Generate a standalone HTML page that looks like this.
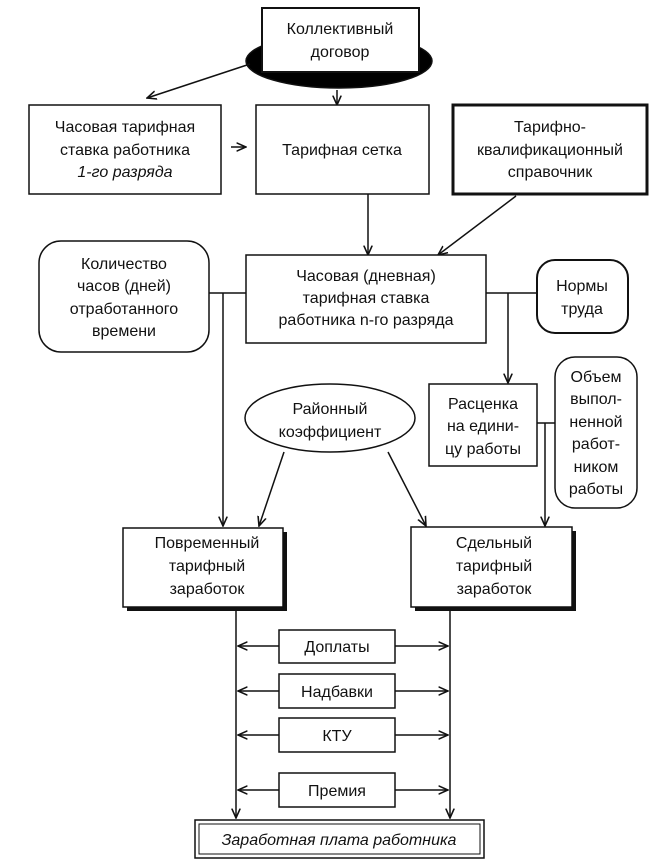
<!DOCTYPE html>
<html><head><meta charset="utf-8"><style>
html,body{margin:0;padding:0;background:#fff}
svg{display:block}
text{font-family:"Liberation Sans","DejaVu Sans",sans-serif;font-size:16px;fill:#111;text-anchor:middle}
</style></head><body>
<svg width="672" height="866" viewBox="0 0 672 866" xmlns="http://www.w3.org/2000/svg">
<defs>
<marker id="a" viewBox="0 0 10 10" refX="9" refY="5" markerWidth="7" markerHeight="7" orient="auto-start-reverse"><path d="M0,1 L9,5 L0,9" fill="none" stroke="#111" stroke-width="1.5"/></marker>
</defs>
<g stroke="#111" stroke-width="1.5" fill="none">
<!-- top ellipse + box -->
<ellipse cx="339" cy="61" rx="93" ry="27" fill="#000"/>
<rect x="262" y="8" width="157" height="64" fill="#fff" stroke-width="2"/>
<line x1="250" y1="64" x2="147" y2="98" marker-end="url(#a)"/>
<line x1="337" y1="90" x2="337" y2="105" marker-end="url(#a)"/>
<rect x="29" y="105" width="192" height="89" fill="#fff"/>
<line x1="231" y1="147" x2="246" y2="147" marker-end="url(#a)"/>
<rect x="256" y="105" width="173" height="89" fill="#fff"/>
<rect x="453" y="105" width="194" height="89" fill="#fff" stroke-width="3"/>
<line x1="368" y1="194" x2="368" y2="255" marker-end="url(#a)"/>
<line x1="516" y1="196" x2="438" y2="255" marker-end="url(#a)"/>
<rect x="246" y="255" width="240" height="88" fill="#fff"/>
<rect x="39" y="241" width="170" height="111" rx="22" fill="#fff"/>
<rect x="537" y="260" width="91" height="73" rx="18" fill="#fff" stroke-width="2"/>
<line x1="209" y1="293" x2="246" y2="293"/>
<line x1="486" y1="293" x2="537" y2="293"/>
<line x1="223" y1="293" x2="223" y2="526" marker-end="url(#a)"/>
<line x1="508" y1="293" x2="508" y2="383" marker-end="url(#a)"/>
<rect x="429" y="384" width="108" height="82" fill="#fff"/>
<rect x="555" y="357" width="82" height="151" rx="20" fill="#fff"/>
<line x1="537" y1="423" x2="555" y2="423"/>
<line x1="545" y1="423" x2="545" y2="526" marker-end="url(#a)"/>
<ellipse cx="330" cy="418" rx="85" ry="34" fill="#fff"/>
<line x1="284" y1="452" x2="259" y2="526" marker-end="url(#a)"/>
<line x1="388" y1="452" x2="426" y2="526" marker-end="url(#a)"/>
<rect x="127" y="532" width="160" height="79" fill="#111" stroke="none"/>
<rect x="123" y="528" width="160" height="79" fill="#fff"/>
<rect x="415" y="531" width="161" height="80" fill="#111" stroke="none"/>
<rect x="411" y="527" width="161" height="80" fill="#fff"/>
<line x1="236" y1="611" x2="236" y2="818" marker-end="url(#a)"/>
<line x1="450" y1="611" x2="450" y2="818" marker-end="url(#a)"/>
<rect x="279" y="630" width="116" height="33" fill="#fff"/>
<rect x="279" y="674" width="116" height="34" fill="#fff"/>
<rect x="279" y="718" width="116" height="34" fill="#fff"/>
<rect x="279" y="773" width="116" height="34" fill="#fff"/>
<line x1="279" y1="646" x2="238" y2="646" marker-end="url(#a)"/><line x1="395" y1="646" x2="448" y2="646" marker-end="url(#a)"/>
<line x1="279" y1="691" x2="238" y2="691" marker-end="url(#a)"/><line x1="395" y1="691" x2="448" y2="691" marker-end="url(#a)"/>
<line x1="279" y1="735" x2="238" y2="735" marker-end="url(#a)"/><line x1="395" y1="735" x2="448" y2="735" marker-end="url(#a)"/>
<line x1="279" y1="790" x2="238" y2="790" marker-end="url(#a)"/><line x1="395" y1="790" x2="448" y2="790" marker-end="url(#a)"/>
<rect x="195" y="820" width="289" height="38" fill="#fff"/>
<rect x="199" y="824" width="281" height="30" fill="none" stroke-width="1"/>
</g>
<text x="340" y="34">Коллективный</text>
<text x="340" y="57">договор</text>
<text x="125" y="132">Часовая тарифная</text>
<text x="125" y="155">ставка работника</text>
<text x="125" y="177" font-style="italic">1-го разряда</text>
<text x="342" y="155">Тарифная сетка</text>
<text x="550" y="132">Тарифно-</text>
<text x="550" y="155">квалификационный</text>
<text x="550" y="177">справочник</text>
<text x="366" y="281">Часовая (дневная)</text>
<text x="366" y="303">тарифная ставка</text>
<text x="366" y="325">работника n-го разряда</text>
<text x="124" y="269">Количество</text>
<text x="124" y="291">часов (дней)</text>
<text x="124" y="314">отработанного</text>
<text x="124" y="336">времени</text>
<text x="582" y="291">Нормы</text>
<text x="582" y="314">труда</text>
<text x="483" y="409">Расценка</text>
<text x="483" y="431">на едини-</text>
<text x="483" y="454">цу работы</text>
<text x="596" y="382">Объем</text>
<text x="596" y="404">выпол-</text>
<text x="596" y="427">ненной</text>
<text x="596" y="449">работ-</text>
<text x="596" y="472">ником</text>
<text x="596" y="494">работы</text>
<text x="330" y="414">Районный</text>
<text x="330" y="437">коэффициент</text>
<text x="207" y="548">Повременный</text>
<text x="207" y="571">тарифный</text>
<text x="207" y="594">заработок</text>
<text x="494" y="548">Сдельный</text>
<text x="494" y="571">тарифный</text>
<text x="494" y="594">заработок</text>
<text x="337" y="652">Доплаты</text>
<text x="337" y="697">Надбавки</text>
<text x="337" y="741">КТУ</text>
<text x="337" y="796">Премия</text>
<text x="339" y="845" font-style="italic">Заработная плата работника</text>
</svg>
</body></html>
